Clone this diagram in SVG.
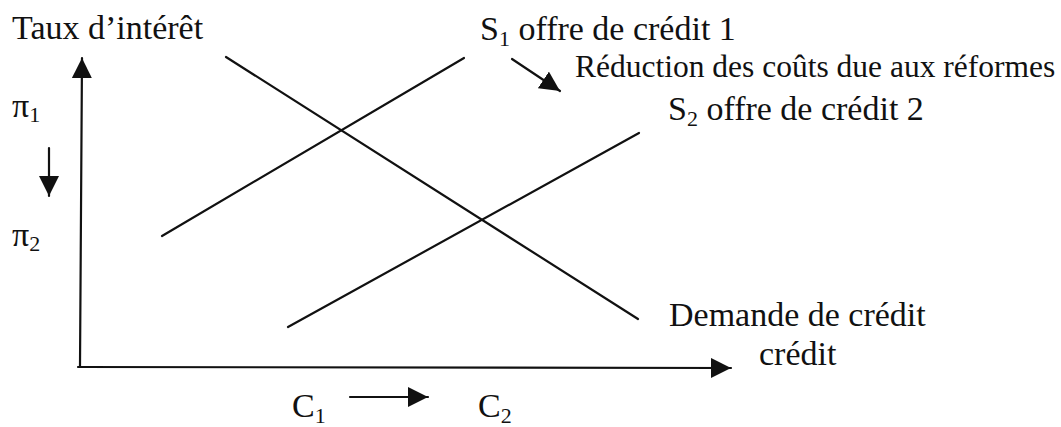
<svg xmlns="http://www.w3.org/2000/svg" width="1061" height="427" viewBox="0 0 1061 427">
<style>
text{font-family:"Liberation Serif","Times New Roman",serif;font-size:34px;fill:#111}
.sm{font-size:31.5px}
.sub{font-size:22px}
.ln{stroke:#111;stroke-width:2.2;fill:none;stroke-linecap:round}
</style>
<defs>
<marker id="ah" viewBox="0 0 20 20" refX="20" refY="10" markerWidth="20" markerHeight="20" markerUnits="userSpaceOnUse" orient="auto">
<path d="M0,0 L20,10 L0,20 Z" fill="#111"/>
</marker>
</defs>
<rect width="1061" height="427" fill="#fff"/>
<g id="axes">
<line class="ln" x1="80" y1="366" x2="82" y2="58" marker-end="url(#ah)"/>
<line class="ln" x1="78" y1="367" x2="731" y2="368" marker-end="url(#ah)"/>
</g>
<g id="connectors">
<line id="demande" class="ln" x1="226" y1="57" x2="638" y2="319"/>
<line id="s1" class="ln" x1="162" y1="236" x2="464" y2="58"/>
<line id="s2" class="ln" x1="288" y1="327" x2="639" y2="133"/>
<line class="ln" x1="512" y1="59" x2="560" y2="91" marker-end="url(#ah)"/>
<line class="ln" x1="49" y1="148" x2="49" y2="196" marker-end="url(#ah)"/>
<line class="ln" x1="350" y1="397" x2="428" y2="397" marker-end="url(#ah)"/>
</g>
<g id="labels">
<text x="12" y="39">Taux d’intérêt</text>
<text x="480" y="40">S<tspan class="sub" dy="6">1</tspan><tspan dy="-6"> offre de crédit 1</tspan></text>
<text class="sm" x="575" y="77">Réduction des coûts due aux réformes</text>
<text x="668" y="120">S<tspan class="sub" dy="6">2</tspan><tspan dy="-6"> offre de crédit 2</tspan></text>
<text x="12" y="117">π<tspan class="sub" dy="5">1</tspan></text>
<text x="12" y="246">π<tspan class="sub" dy="5">2</tspan></text>
<text x="669" y="326">Demande de crédit</text>
<text x="759" y="365">crédit</text>
<text x="292" y="417">C<tspan class="sub" dy="6">1</tspan></text>
<text x="478" y="417">C<tspan class="sub" dy="6">2</tspan></text>
</g>
</svg>
